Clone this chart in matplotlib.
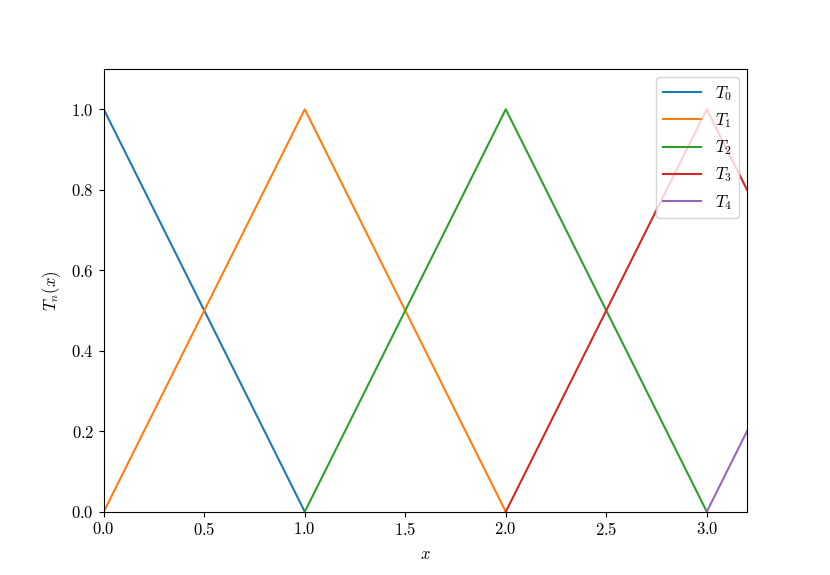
import matplotlib
matplotlib.use("Agg")
import matplotlib.pyplot as plt

plt.rcParams['font.family'] = 'serif'
plt.rcParams['font.serif'] = ['cmr10']
plt.rcParams['mathtext.fontset'] = 'cm'
plt.rcParams['axes.formatter.use_mathtext'] = True
plt.rcParams['font.size'] = 12

# hat functions: node points of each piece
labels = [r'$T_0$', r'$T_1$', r'$T_2$', r'$T_3$', r'$T_4$']
xs = [[0, 1], [0, 1, 2], [1, 2, 3], [2, 3, 3.2], [3, 3.2]]
ys = [[1, 0], [0, 1, 0], [0, 1, 0], [0, 1, 0.8], [0, 0.2]]

fig, ax = plt.subplots(figsize=(8.3, 5.75), dpi=100)
for x, y, lab in zip(xs, ys, labels):
    ax.plot(x, y, label=lab)

ax.set_xlim(0, 3.2)
ax.set_ylim(0, 1.1)
ax.set_xlabel(r'$x$', labelpad=6)
ax.set_ylabel(r'$T_n(x)$', labelpad=6)
ax.legend(loc='upper right', handlelength=2.3)

fig.savefig('out.png')
